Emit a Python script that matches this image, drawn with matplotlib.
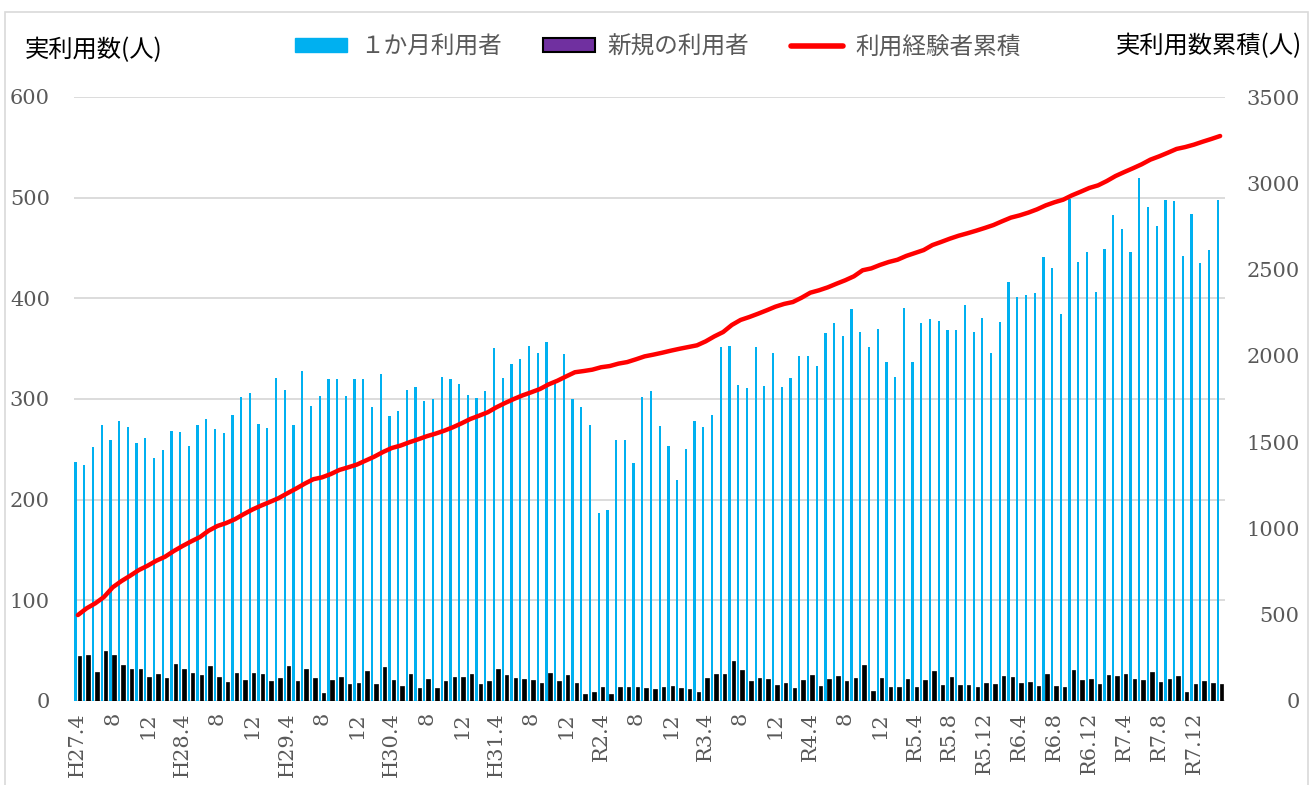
import matplotlib
matplotlib.use("Agg")
import matplotlib.pyplot as plt
import numpy as np
from matplotlib.patches import Patch, Rectangle
from matplotlib.lines import Line2D

# ---- data ----
monthly_users = [237,234,252,274,259,278,272,256,261,241,249,268,267,253,274,280,270,266,284,302,306,275,271,321,309,274,
                 328,293,303,320,320,303,320,320,292,325,283,288,309,312,298,300,322,320,315,304,301,308,351,321,
                 335,340,353,346,357,317,345,300,292,274,187,190,259,259,236,302,308,273,253,220,250,278,272,284,352,
                 353,314,311,352,313,346,312,321,343,343,333,366,375,363,389,367,352,370,337,322,390,337,375,379,377,
                 369,369,393,367,380,346,376,416,401,403,405,441,430,384,499,436,446,406,449,483,469,446,520,491,472,
                 498,497,442,484,435,448,498]
new_users = [45,46,29,50,46,36,32,32,24,27,23,37,32,28,26,35,24,19,28,21,28,27,20,23,35,20,32,23,8,21,24,17,18,30,17,34,21,15,27,13,22,13,20,
             24,24,27,17,20,32,26,23,22,21,18,28,20,26,18,7,9,14,7,14,14,14,13,12,14,15,13,12,9,23,27,27,40,31,20,23,22,16,18,13,21,26,15,22,25,20,23,36,10,23,
             14,14,22,14,21,30,16,24,16,16,14,18,17,25,24,18,19,15,27,15,14,31,21,22,17,26,25,27,22,21,29,19,22,25,9,17,20,18,17]
cumulative = [498,537,566,603,659,695,726,759,784,813,836,869,898,925,950,987,1014,1031,1053,1082,
              1109,1132,1153,1175,1203,1230,1259,1285,1296,1315,1339,1354,1370,1393,1416,1443,1466,1480,1499,1516,
              1534,1549,1566,1586,1609,1634,1653,1673,1702,1727,1750,1771,1789,1808,1835,1856,1881,1905,1912,1920,
              1934,1941,1955,1964,1980,1997,2007,2018,2030,2041,2051,2061,2084,2113,2138,2179,2208,2225,2244,2264,
              2285,2301,2312,2337,2366,2380,2397,2418,2438,2461,2496,2507,2527,2544,2557,2579,2596,2613,2642,2660,
              2679,2696,2710,2725,2741,2758,2780,2801,2814,2830,2849,2872,2890,2905,2930,2951,2973,2988,3013,3042,
              3065,3087,3110,3137,3156,3177,3199,3210,3224,3241,3257,3274]
tick_labels = ["H27.4","8","12","H28.4","8","12","H29.4","8","12","H30.4","8","12",
               "H31.4","8","12","R2.4","8","12","R3.4","8","12","R4.4","8","12",
               "R5.4","R5.8","R5.12","R6.4","R6.8","R6.12","R7.4","R7.8","R7.12"]
series_names = ["１か月利用者", "新規の利用者", "利用経験者累積"]

JP = ["Noto Sans CJK JP", "DejaVu Sans"]
NUM = "DejaVu Serif"
GRAY = "#595959"
BLUE = "#00B0F0"
PURPLE = "#7030A0"

fig = plt.figure(figsize=(13.15, 7.85), dpi=100)
ax = fig.add_axes([73.5/1315, 1-701/785, (1224.5-73.5)/1315, (701-97)/785])

x = np.arange(len(monthly_users))
ax.bar(x - 0.27, monthly_users, width=0.26, color=BLUE, zorder=2)
ax.bar(x + 0.17, new_users, width=0.40, color="black", edgecolor="black", linewidth=0.5, zorder=3)

ax.set_xlim(-0.5, len(x) - 0.5)
ax.set_ylim(0, 600)
ax.set_yticks(range(0, 601, 100))
ax.grid(axis="y", color="#D9D9D9", linewidth=1.3, zorder=0)
ax.set_axisbelow(True)
for s in ax.spines.values():
    s.set_visible(False)
ax.tick_params(axis="y", length=0, pad=17, labelsize=15, labelcolor=GRAY)
for lab in ax.get_yticklabels():
    lab.set_fontfamily(NUM)
ax.set_xticks(np.arange(0, len(x), 4))
ax.set_xticklabels(tick_labels, rotation=90, fontfamily=NUM, fontsize=15, color=GRAY, va="top", ha="center")
ax.tick_params(axis="x", length=0, pad=8)

ax2 = ax.twinx()
ax2.plot(x, cumulative, color="#FF0000", linewidth=3.2, solid_capstyle="round", zorder=5)
ax2.set_ylim(0, 3500)
ax2.set_yticks(range(0, 3501, 500))
for s in ax2.spines.values():
    s.set_visible(False)
ax2.tick_params(axis="y", length=0, pad=54, labelsize=15, labelcolor=GRAY)
for lab in ax2.get_yticklabels():
    lab.set_fontfamily(NUM)
    lab.set_horizontalalignment("right")

fig.text(25/1315, 1-50/785, "実利用数(人)", fontfamily=JP, fontsize=17.5, color="black", va="center", ha="left")
fig.text(1302/1315, 1-46/785, "実利用数累積(人)", fontfamily=JP, fontsize=17.5, color="black", va="center", ha="right")

handles = [Patch(facecolor=BLUE, edgecolor=BLUE),
           Patch(facecolor=PURPLE, edgecolor="black", linewidth=1.5),
           Line2D([], [], color="#FF0000", linewidth=4, solid_capstyle="round")]
leg = fig.legend(handles, series_names, loc="center", bbox_to_anchor=(658/1315, 1-47/785), ncol=3,
                 frameon=False, handlelength=2.2, handleheight=0.55, columnspacing=1.75, handletextpad=0.55,
                 prop={"family": JP, "size": 17})
for t in leg.get_texts():
    t.set_color(GRAY)

fig.patches.append(Rectangle((5/1315, -0.02), (1308-5)/1315, 1-12/785 + 0.02, transform=fig.transFigure,
                             fill=False, edgecolor="#D9D9D9", linewidth=1.2))

fig.savefig("out.png", dpi=100)
